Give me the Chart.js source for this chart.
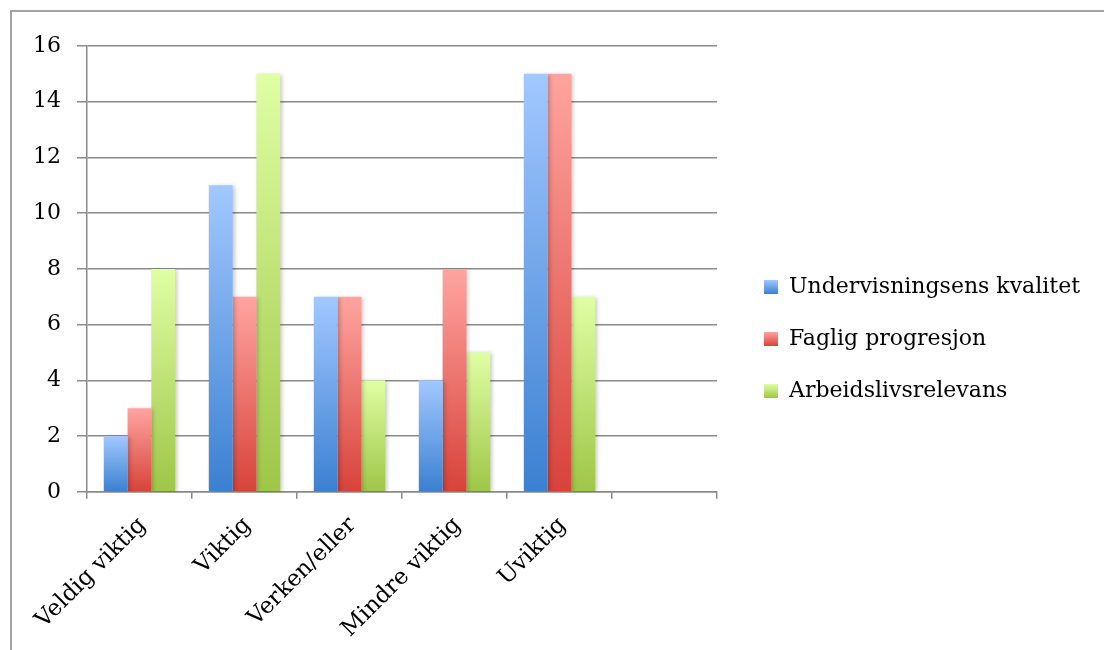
<!DOCTYPE html>
<html>
<head>
<meta charset="utf-8">
<script src="https://cdn.jsdelivr.net/npm/chart.js@4"></script>
<style>
  html, body { margin: 0; padding: 0; background: #fff; }
  body { width: 1104px; height: 650px; overflow: hidden; position: relative; }
  #frame { position: absolute; left: 10px; top: 10px; width: 1100px; height: 650px;
           border-top: 2px solid #a3a3a3; border-left: 2px solid #a3a3a3; }
  #wrap { position: absolute; left: 12px; top: 12px; width: 1092px; height: 638px; }
</style>
</head>
<body>
<div id="frame"></div>
<div id="wrap"><canvas id="c"></canvas></div>
<script>
const categories = ['Veldig viktig', 'Viktig', 'Verken/eller', 'Mindre viktig', 'Uviktig', ''];
const seriesNames = ['Undervisningsens kvalitet', 'Faglig progresjon', 'Arbeidslivsrelevans'];
const undervisningsensKvalitet = [2, 11, 7, 4, 15, null];
const fagligProgresjon = [3, 7, 7, 8, 15, null];
const arbeidslivsrelevans = [8, 15, 4, 5, 7, null];
const yTicks = [0, 2, 4, 6, 8, 10, 12, 14, 16];

const gradColors = [
  ['#a2c8ff', '#3b80d1'],
  ['#ffa4a0', '#d7433a'],
  ['#e0fea4', '#9ec647']
];

const FONT = "'DejaVu Serif', 'Liberation Serif', serif";

function barGradient(idx) {
  return function(context) {
    const chart = context.chart;
    const y = chart.scales && chart.scales.y;
    const v = context.parsed ? context.parsed.y : null;
    if (!y || v == null || !isFinite(y.getPixelForValue(v))) return gradColors[idx][1];
    const top = y.getPixelForValue(v);
    const bottom = y.getPixelForValue(0);
    if (!(bottom > top)) return gradColors[idx][1];
    const g = chart.ctx.createLinearGradient(0, top, 0, bottom);
    g.addColorStop(0, gradColors[idx][0]);
    g.addColorStop(1, gradColors[idx][1]);
    return g;
  };
}

function legendSwatch(idx) {
  const cv = document.createElement('canvas');
  cv.width = 14; cv.height = 14;
  const c = cv.getContext('2d');
  const g = c.createLinearGradient(0, 0, 0, 14);
  g.addColorStop(0, gradColors[idx][0]);
  g.addColorStop(1, gradColors[idx][1]);
  c.fillStyle = g;
  c.fillRect(0, 0, 14, 14);
  return cv;
}

const shadowPlugin = {
  id: 'barShadow',
  beforeDatasetsDraw(chart) {
    const ctx = chart.ctx;
    ctx.save();
    ctx.shadowColor = 'rgba(0,0,0,0.22)';
    ctx.shadowBlur = 4;
    ctx.shadowOffsetX = 2;
    ctx.shadowOffsetY = 1;
  },
  afterDatasetsDraw(chart) {
    chart.ctx.restore();
  }
};

// place the legend as in the reference: a gap after the plot area, slightly higher
const legendGapPlugin = {
  id: 'legendGap',
  afterLayout(chart) {
    const lg = chart.legend;
    if (lg) { lg.left += 17; lg.right += 17; lg.top -= 12; lg.bottom -= 12; }
  }
};

const seriesValues = [undervisningsensKvalitet, fagligProgresjon, arbeidslivsrelevans];

new Chart(document.getElementById('c'), {
  type: 'bar',
  data: {
    labels: categories,
    datasets: seriesValues.map((vals, i) => ({
      label: seriesNames[i],
      data: vals,
      backgroundColor: barGradient(i),
      borderWidth: 0,
      pointStyle: legendSwatch(i),
      categoryPercentage: 0.68,
      barPercentage: 1.0
    }))
  },
  options: {
    responsive: true,
    maintainAspectRatio: false,
    animation: false,
    layout: { padding: { left: 5, top: 34, right: 31, bottom: -6 } },
    plugins: {
      tooltip: { enabled: false },
      legend: {
        position: 'right',
        maxWidth: 420,
        labels: {
          usePointStyle: true,
          boxWidth: 14,
          boxHeight: 14,
          padding: 30,
          color: '#000',
          font: { family: FONT, size: 22 }
        }
      }
    },
    scales: {
      x: {
        offset: true,
        grid: {
          offset: true,
          drawOnChartArea: false,
          drawTicks: true,
          tickLength: 7,
          color: '#8a8a8a',
          lineWidth: 1.5
        },
        border: { display: true, color: '#8a8a8a', width: 1.5 },
        ticks: {
          minRotation: 45,
          maxRotation: 45,
          color: '#000',
          padding: 13,
          labelOffset: 3,
          font: { family: FONT, size: 23 }
        }
      },
      y: {
        min: 0,
        max: 16,
        afterBuildTicks(scale) { scale.ticks = yTicks.map(v => ({ value: v })); },
        grid: {
          color: '#8a8a8a',
          lineWidth: 1.5,
          drawTicks: true,
          tickLength: 10
        },
        border: { display: true, color: '#8a8a8a', width: 1.5 },
        ticks: {
          color: '#000',
          padding: 16,
          font: { family: FONT, size: 22 }
        }
      }
    }
  },
  plugins: [shadowPlugin, legendGapPlugin]
});
</script>
</body>
</html>
